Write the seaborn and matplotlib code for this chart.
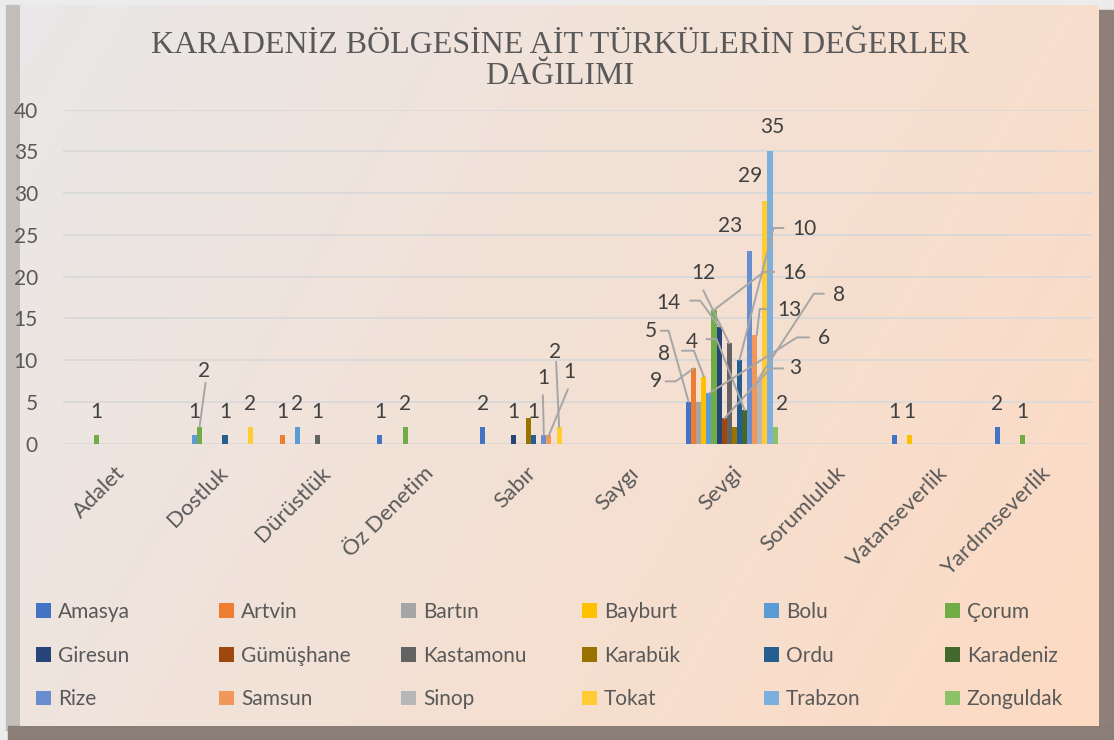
import numpy as np
import matplotlib.pyplot as plt
import seaborn as sns
import pandas as pd
from matplotlib.lines import Line2D
from matplotlib.patches import Rectangle
from matplotlib.transforms import IdentityTransform

W, H = 1114, 740

kategoriler = ["Adalet", "Dostluk", "Dürüstlük", "Öz Denetim", "Sabır",
               "Saygı", "Sevgi", "Sorumluluk", "Vatanseverlik", "Yardımseverlik"]

iller = ["Amasya", "Artvin", "Bartın", "Bayburt", "Bolu", "Çorum",
         "Giresun", "Gümüşhane", "Kastamonu", "Karabük", "Ordu", "Karadeniz",
         "Rize", "Samsun", "Sinop", "Tokat", "Trabzon", "Zonguldak"]

renkler = ["#4472C4", "#ED7D31", "#A5A5A5", "#FFC000", "#5B9BD5", "#70AD47",
           "#264478", "#9E480E", "#636363", "#997300", "#255E91", "#43682B",
           "#698ED0", "#F1975A", "#B7B7B7", "#FFCD33", "#7CAFDD", "#8CC168"]

# kategori sirasi: Adalet .. Yardimseverlik
amasya    = [0, 0, 0, 1, 2, 0, 5, 0, 1, 2]
artvin    = [0, 0, 1, 0, 0, 0, 9, 0, 0, 0]
bartin    = [0, 0, 0, 0, 0, 0, 5, 0, 0, 0]
bayburt   = [0, 0, 0, 0, 0, 0, 8, 0, 1, 0]
bolu      = [0, 1, 2, 0, 0, 0, 6, 0, 0, 0]
corum     = [1, 2, 0, 2, 0, 0, 16, 0, 0, 1]
giresun   = [0, 0, 0, 0, 1, 0, 14, 0, 0, 0]
gumushane = [0, 0, 0, 0, 0, 0, 3, 0, 0, 0]
kastamonu = [0, 0, 1, 0, 0, 0, 12, 0, 0, 0]
karabuk   = [0, 0, 0, 0, 3, 0, 2, 0, 0, 0]
ordu      = [0, 1, 0, 0, 1, 0, 10, 0, 0, 0]
karadeniz = [0, 0, 0, 0, 0, 0, 4, 0, 0, 0]
rize      = [0, 0, 0, 0, 1, 0, 23, 0, 0, 0]
samsun    = [0, 0, 0, 0, 1, 0, 13, 0, 0, 0]
sinop     = [0, 0, 0, 0, 0, 0, 8, 0, 0, 0]
tokat     = [0, 2, 0, 0, 2, 0, 29, 0, 0, 0]
trabzon   = [0, 0, 0, 0, 0, 0, 35, 0, 0, 0]
zonguldak = [0, 0, 0, 0, 0, 0, 2, 0, 0, 0]

degerler = [amasya, artvin, bartin, bayburt, bolu, corum, giresun, gumushane,
            kastamonu, karabuk, ordu, karadeniz, rize, samsun, sinop, tokat,
            trabzon, zonguldak]

rows = []
for il, vals in zip(iller, degerler):
    for k, v in zip(kategoriler, vals):
        rows.append({"kategori": k, "il": il, "deger": v})
df = pd.DataFrame(rows)

# etiket yerlesimi (piksel, cubuk tepesine gore) ve kilavuz cizgiler
ozel = {
    ("Dostluk", "Çorum"): (5, 56, [(0, 0), (6, 44)]),
    ("Sabır", "Rize"): (-1, 57, [(0, 0), (-1, 40)]),
    ("Sabır", "Tokat"): (-4, 75, [(0, 0), (-3, 65)]),
    ("Sabır", "Samsun"): (20, 63, [(0, 0), (19, 46)]),
    ("Sevgi", "Ordu"): (65, 131, [(0, 0), (34, 132), (44, 132)]),
    ("Sevgi", "Çorum"): (80, 37, [(0, 0), (50, 38), (60, 38)]),
    ("Sevgi", "Samsun"): (35, 25, [(2, 0), (5, 26), (14, 26)]),
    ("Sevgi", "Sinop"): (79, 82, [(0, 0), (54, 83), (64, 83)]),
    ("Sevgi", "Bolu"): (115, 55, [(0, 0), (88, 56), (100, 56)]),
    ("Sevgi", "Gümüşhane"): (71, 50, [(0, 0), (46, 50), (59, 50)]),
    ("Sevgi", "Kastamonu"): (-26, 70, [(0, 0), (-26, 53)]),
    ("Sevgi", "Giresun"): (-51, 24, [(0, 0), (-19, 26), (-29, 26)]),
    ("Sevgi", "Karadeniz"): (-53, 68, [(0, 0), (-28, 71), (-38, 71)]),
    ("Sevgi", "Bayburt"): (-40, 23, [(0, 0), (-10, 26), (-22, 26)]),
    ("Sevgi", "Artvin"): (-38, -13, [(0, 0), (-18, -13), (-28, -13)]),
    ("Sevgi", "Amasya"): (-38, 71, [(0, 0), (-20, 71), (-28, 71)]),
    ("Sevgi", "Trabzon"): (2, 24, None),
    ("Sevgi", "Tokat"): (-15, 25, None),
    ("Sevgi", "Rize"): (-20, 25, None),
    ("Sevgi", "Zonguldak"): (7, 23, None),
}
gizli = [("Sabır", "Karabük"), ("Sevgi", "Bartın"), ("Sevgi", "Karabük")]

sns.set_theme(style="white")
plt.rcParams["font.family"] = ["Lato", "DejaVu Sans"]

fig = plt.figure(figsize=(W / 100, H / 100), dpi=100)

# arka plan: cerceve + gradyan
bg = fig.add_axes([0, 0, 1, 1], zorder=0)
bg.set_xlim(0, W)
bg.set_ylim(H, 0)
bg.axis("off")
bg.add_patch(Rectangle((0, 0), W, H, color="#ececec"))
bg.add_patch(Rectangle((6, 5), 16, 725, color="#c4bebb"))
bg.add_patch(Rectangle((1098, 10), 16, 730, color="#8e8078"))
bg.add_patch(Rectangle((8, 726), 1106, 14, color="#8b7e77"))
yy, xx = np.mgrid[0:1:200j, 0:1:300j]
t = np.clip(0.72 * xx + 0.28 * yy, 0, 1)
c0 = np.array([233, 232, 232]) / 255
c1 = np.array([253, 218, 194]) / 255
img = c0 + (c1 - c0) * t[..., None]
bg.imshow(img, extent=[20, 1099, 726, 5], aspect="auto", zorder=2)

ax = fig.add_axes([63 / W, 1 - 443.5 / H, (1092 - 63) / W, (443.5 - 109.5) / H], zorder=2)
ax.patch.set_alpha(0)

sns.barplot(data=df, x="kategori", y="deger", hue="il", order=kategoriler,
            hue_order=iller, palette=renkler, saturation=1, width=0.89,
            linewidth=0, ax=ax)

handles, labels = ax.get_legend_handles_labels()
ax.get_legend().remove()

ax.set_ylim(0, 40)
ax.set_yticks(range(0, 41, 5))
ax.set_xlabel("")
ax.set_ylabel("")
ax.grid(axis="y", color="#d9d9d9", lw=1.3)
ax.set_axisbelow(True)
for s in ax.spines.values():
    s.set_visible(False)
ax.tick_params(axis="y", length=0, pad=18, labelsize=15, labelcolor="#595959")
ax.tick_params(axis="x", length=0, pad=14, labelsize=16, labelcolor="#595959")
for lab in ax.get_yticklabels():
    lab.set_horizontalalignment("right")
for lab in ax.get_xticklabels():
    lab.set_rotation(45)
    lab.set_ha("right")
    lab.set_va("top")
    lab.set_rotation_mode("anchor")

# veri etiketleri
for j, il in enumerate(iller):
    bars = ax.containers[j]
    for i, k in enumerate(kategoriler):
        v = degerler[j][i]
        if v == 0 or (k, il) in gizli:
            continue
        bar = bars[i]
        x = bar.get_x() + bar.get_width() / 2
        dx, dy, leader = ozel.get((k, il), (0, 23, None))
        ax.annotate(str(v), (x, v), xytext=(dx, dy), textcoords="offset pixels",
                    ha="center", va="center", fontsize=15, color="#404040")
        if leader:
            px, py = ax.transData.transform((x, v))
            xs = [px + a for a, b in leader]
            ys = [py + b for a, b in leader]
            fig.add_artist(Line2D(xs, ys, transform=IdentityTransform(),
                                  color="#a6a6a6", lw=1.4, zorder=5))

fig.text(560 / W, 1 - 61 / H,
         "KARADENİZ BÖLGESİNE AİT TÜRKÜLERİN DEĞERLER\nDAĞILIMI",
         ha="center", va="center", fontsize=23, color="#595959",
         family=["Liberation Serif", "DejaVu Serif"], linespacing=1.05)

# legend: 6 sutun, satir satir
sutun_x = [36, 219, 401, 582, 764, 945]
for j in range(6):
    fig.legend([handles[j], handles[j + 6], handles[j + 12]],
               [labels[j], labels[j + 6], labels[j + 12]],
               loc="upper left", bbox_to_anchor=(sutun_x[j] / W, 1 - 602 / H),
               frameon=False, fontsize=15, labelcolor="#595959",
               handlelength=0.7, handleheight=0.7, handletextpad=0.35,
               labelspacing=1.13, borderpad=0, borderaxespad=0)

plt.savefig("out.png", dpi=100)
